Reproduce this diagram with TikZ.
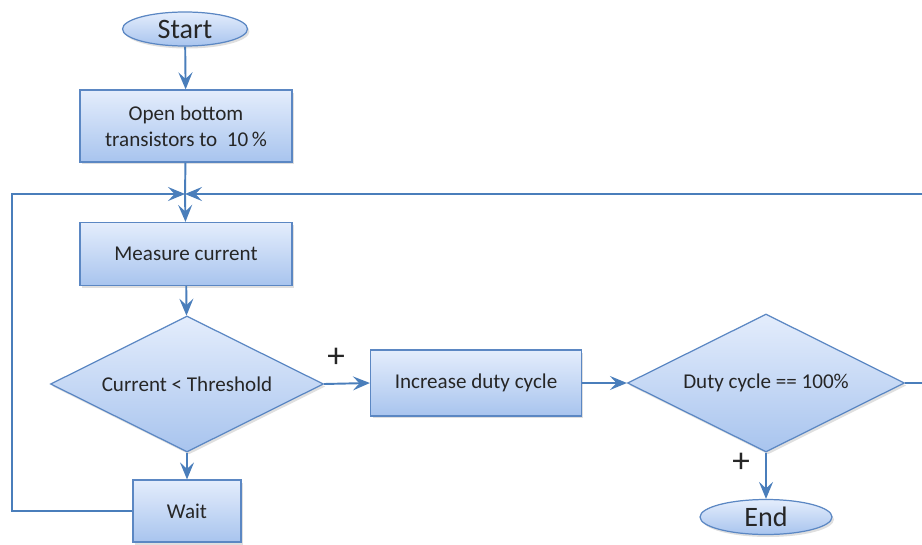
\documentclass[tikz,border=0pt]{standalone}
\usepackage{fontspec}
\setmainfont{Carlito}
\usetikzlibrary{calc}
\usetikzlibrary{shapes}
\usetikzlibrary{arrows.meta,shadows}
\definecolor{edgeblue}{HTML}{5B87C3}
\definecolor{lineblue}{HTML}{4A7EBB}
\definecolor{filltop}{HTML}{E4EDFC}
\definecolor{fillbot}{HTML}{A8C4EE}
\definecolor{inkgray}{HTML}{262626}
\tikzset{
  flowshape/.style={draw=edgeblue, line width=0.7pt, top color=filltop, bottom color=fillbot,
    text=inkgray, inner sep=0pt, align=center,
    drop shadow={opacity=0.25, shadow xshift=0.4mm, shadow yshift=-0.5mm}},
  flowbox/.style={flowshape, rectangle, font=\fontsize{12}{15}\selectfont},
  flowcond/.style={flowshape, diamond, aspect=2, font=\fontsize{12}{15}\selectfont},
  flowterm/.style={flowshape, ellipse, font=\fontsize{16}{18}\selectfont},
  sized/.style 2 args={minimum width=#1cm, minimum height=#2cm},
  flowline/.style={draw=lineblue, line width=1.1pt},
  flowarrow/.style={flowline, -{Stealth[length=3.4mm, width=2.8mm, inset=1.3mm]}},
  pluslabel/.style={text=inkgray, font=\fontsize{20}{22}\selectfont}
}
\begin{document}
\begin{tikzpicture}[x=0.02cm,y=-0.02cm]
\useasboundingbox (0,0) rectangle (922,544);
\clip (0,0) rectangle (922,544);
% left column
\node[flowterm, sized={2.5}{0.68}] (start) at (185,29) {Start};
\node[flowbox, sized={4.24}{1.44}] (open) at (186,126) {Open bottom\\transistors to~~10\,\%};
\coordinate (jn) at (185,194);
\node[flowbox, sized={4.24}{1.26}] (meas) at (186,254) {Measure current};
\node[flowcond, sized={5.46}{2.72}] (cur) at (187,384) {Current < Threshold};
\node[flowbox, sized={2.16}{1.24}] (wait) at (187,511) {Wait};
% right part
\node[flowbox, sized={4.22}{1.32}] (inc) at (476,383) {Increase duty cycle};
\node[flowcond, sized={5.54}{2.76}] (duty) at (766,383) {Duty cycle == 100\%};
\node[flowterm, sized={2.64}{0.7}] (end) at (766,517) {End};
% loop corners
\coordinate (lft) at (12,194);
\coordinate (rgt) at (940,194);
% connectors
\draw[flowarrow] (start) -- (open);
\draw[flowline] (open) -- (jn);
\draw[flowarrow] (jn) -- (meas);
\draw[flowarrow] (meas) -- (cur);
\draw[flowarrow] (cur) -- (wait);
\draw[flowarrow] (wait.west) -| (lft) -- (jn);
\draw[flowarrow] (cur.east) -- (inc.west);
\draw[flowarrow] (inc.east) -- (duty.west);
\draw[flowarrow] (duty.south) -- (end.north);
\draw[flowarrow] (duty.east) -| (rgt) -- (jn);
% plus labels
\node[pluslabel] (plusa) at (336,358) {+};
\node[pluslabel] (plusb) at (741,463) {+};
\end{tikzpicture}
\end{document}
